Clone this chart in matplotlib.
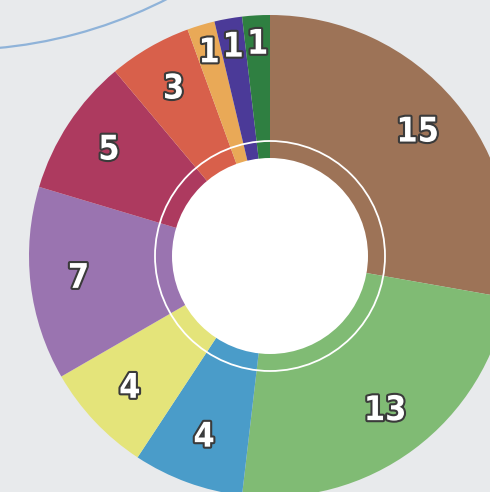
import math
import matplotlib
matplotlib.use("Agg")
import matplotlib.pyplot as plt
import matplotlib.patches as mpatches
import matplotlib.patheffects as pe
from matplotlib import font_manager

values = [15, 13, 4, 4, 7, 5, 3, 1, 1, 1]
labels = [str(v) for v in values]
colors = ["#9d7357", "#80bb74", "#4a9cc9", "#e4e47a", "#9a74b0",
          "#ad3a5f", "#d8604b", "#e9a957", "#4b3a98", "#2f7f41"]

names = {f.name for f in font_manager.fontManager.ttflist}
if "Liberation Sans Narrow" in names:
    fam, fsize, stretch = "Liberation Sans Narrow", 28, "normal"
else:
    fam, fsize, stretch = "DejaVu Sans", 24.5, "condensed"

W, H = 490, 492
fig = plt.figure(figsize=(W / 100, H / 100), dpi=100)
fig.patch.set_facecolor("#e8eaec")
ax = fig.add_axes([0, 0, 1, 1])
ax.set_xlim(0, W)
ax.set_ylim(0, H)
ax.set_aspect("equal")
ax.axis("off")

cx, cy = 270, H - 256
R = 241

# decorative blue arc in the top-left background
arc = mpatches.Arc((-45, H + 416), 932, 932, theta1=265, theta2=305,
                   color="#8fb3d9", lw=1.6)
ax.add_patch(arc)

wedges, texts = ax.pie(values, colors=colors, startangle=90, counterclock=False,
                       center=(cx, cy), radius=R, labels=labels,
                       labeldistance=0.8,
                       wedgeprops=dict(linewidth=0),
                       textprops=dict(color="white", fontsize=fsize,
                                      fontweight="bold", fontstretch=stretch,
                                      family=[fam, "DejaVu Sans"],
                                      ha="center", va="center"))
ax.set_xlim(0, W)
ax.set_ylim(0, H)

total = sum(values)
cum = 0
for v, t in zip(values, texts):
    mid = (cum + v / 2) / total * 360
    cum += v
    d = 0.88 if v <= 1 else 0.8
    a = math.radians(mid)
    t.set_position((cx + R * d * math.sin(a), cy + R * d * math.cos(a)))
    t.set_path_effects([pe.withStroke(linewidth=3, foreground="#3a3a3a")])

ax.add_patch(mpatches.Circle((cx, cy), 98, facecolor="white", edgecolor="none", zorder=3))
ax.add_patch(mpatches.Circle((cx, cy), 115, facecolor="none", edgecolor="white",
                             lw=1.3, zorder=3))

fig.savefig("out.png", dpi=100, facecolor=fig.get_facecolor())
